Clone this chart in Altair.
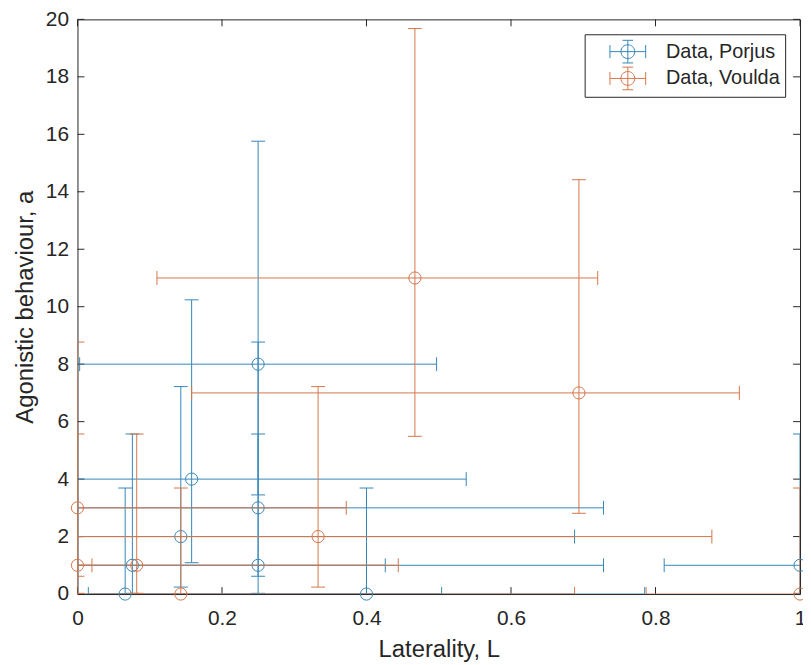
import altair as alt
import pandas as pd

# ---------------- data ----------------
series_names = ["Data, Porjus", "Data, Voulda"]
series_colors = ["#3587b6", "#d5764a"]

porjus_L = [0.066, 0.400, 0.076, 0.250, 1.000, 0.143, 0.250, 0.158, 0.250]
porjus_a = [0, 0, 1, 1, 1, 2, 3, 4, 8]
porjus_Llo = [-0.372, 0.015, -0.274, -0.228, 0.812, -0.402, -0.228, -0.222, 0.003]
porjus_Lhi = [0.504, 0.785, 0.426, 0.728, 1.188, 0.688, 0.728, 0.538, 0.497]
porjus_alo = [0, 0, 0.025, 0.025, 0.025, 0.242, 0.619, 1.09, 3.45]
porjus_ahi = [3.69, 3.69, 5.57, 5.57, 5.57, 7.22, 8.77, 10.24, 15.76]

voulda_L = [0.143, 1.000, 0.000, 0.082, 0.333, 0.000, 0.694, 0.467]
voulda_a = [0, 0, 1, 1, 2, 3, 7, 11]
voulda_Llo = [-0.402, 0.787, -0.020, -0.280, -0.212, -0.372, 0.158, 0.110]
voulda_Lhi = [0.688, 1.213, 0.020, 0.444, 0.878, 0.372, 0.916, 0.720]
voulda_alo = [0, 0, 0.025, 0.025, 0.242, 0.619, 2.81, 5.49]
voulda_ahi = [3.69, 3.69, 5.57, 5.57, 7.22, 8.77, 14.42, 19.68]

x_ticks = [0, 0.2, 0.4, 0.6, 0.8, 1]
y_ticks = [0, 2, 4, 6, 8, 10, 12, 14, 16, 18, 20]

x_title = "Laterality, L"
y_title = "Agonistic behaviour, a"

# ---------------- styling ----------------
W, H = 728, 579
AX = "#262626"
FONT = "Liberation Sans"
TICK_LEN = 7

xs = alt.Scale(domain=[0, 1], nice=False, zero=False)
ys = alt.Scale(domain=[0, 20], nice=False, zero=False)

xaxis = alt.Axis(title=x_title, values=x_ticks, format="~g", ticks=False, tickSize=0,
                 domain=False, grid=False, labelFlush=False, labelPadding=14,
                 labelFont=FONT, labelFontSize=21, labelColor=AX,
                 titleFont=FONT, titleFontSize=24, titleColor=AX, titleFontWeight="normal",
                 titleX=W / 2, titleY=63, titleBaseline="alphabetic")
yaxis = alt.Axis(title=y_title, values=y_ticks, format="~g", ticks=False, tickSize=0,
                 domain=False, grid=False, labelFlush=False, labelPadding=9,
                 labelFont=FONT, labelFontSize=21, labelColor=AX,
                 titleFont=FONT, titleFontSize=24, titleColor=AX, titleFontWeight="normal",
                 titleX=-45, titleY=H / 2, titleBaseline="alphabetic", titleAngle=270)

legend_path = ("M-1.5,0H1.5M-1.5,-0.55V0.55M1.5,-0.55V0.55"
               "M0,-0.95V0.95M-0.45,-0.95H0.45M-0.45,0.95H0.45"
               "M0.58,0A0.58,0.58,0,1,1,-0.58,0A0.58,0.58,0,1,1,0.58,0")

legend = alt.Legend(title=None, orient="none", legendX=511, legendY=15,
                    symbolType=legend_path, symbolSize=576, symbolStrokeWidth=1,
                    labelFont=FONT, labelFontSize=20, labelColor=AX, labelLimit=0,
                    strokeColor=AX, fillColor="white", padding=5, rowPadding=0,
                    symbolOffset=26, labelOffset=26)

color_scale = alt.Scale(domain=series_names, range=series_colors)


def make_df(name, L, a, Llo, Lhi, alo, ahi):
    return pd.DataFrame({"series": name, "L": L, "a": a, "Llo": Llo, "Lhi": Lhi,
                         "alo": alo, "ahi": ahi})


def series_layers(df):
    base = alt.Chart(df)
    color = alt.Color("series:N", scale=color_scale, legend=legend)
    xerr = base.mark_rule(clip=True, strokeWidth=1).encode(
        x=alt.X("Llo:Q", scale=xs, axis=xaxis), x2="Lhi:Q",
        y=alt.Y("a:Q", scale=ys, axis=yaxis), color=color)
    yerr = base.mark_rule(clip=True, strokeWidth=1).encode(
        x=alt.X("L:Q", scale=xs, axis=xaxis),
        y=alt.Y("alo:Q", scale=ys, axis=yaxis), y2="ahi:Q", color=color)
    xcaps = base.transform_fold(["Llo", "Lhi"], as_=["end", "Lend"]).mark_point(
        shape="M0,-1V1", size=196, filled=False, strokeWidth=1, clip=True, opacity=1).encode(
        x=alt.X("Lend:Q", scale=xs, axis=xaxis),
        y=alt.Y("a:Q", scale=ys, axis=yaxis), color=color)
    ycaps = base.transform_fold(["alo", "ahi"], as_=["end", "aend"]).mark_point(
        shape="M-1,0H1", size=196, filled=False, strokeWidth=1, clip=True, opacity=1).encode(
        x=alt.X("L:Q", scale=xs, axis=xaxis),
        y=alt.Y("aend:Q", scale=ys, axis=yaxis), color=color)
    pts = base.mark_point(shape="circle", size=150, filled=False, strokeWidth=1, opacity=1).encode(
        x=alt.X("L:Q", scale=xs, axis=xaxis),
        y=alt.Y("a:Q", scale=ys, axis=yaxis), color=color)
    return [xerr, yerr, xcaps, ycaps, pts]


df_p = make_df(series_names[0], porjus_L, porjus_a, porjus_Llo, porjus_Lhi, porjus_alo, porjus_ahi)
df_v = make_df(series_names[1], voulda_L, voulda_a, voulda_Llo, voulda_Lhi, voulda_alo, voulda_ahi)

# inward ticks on all four sides (MATLAB style)
xt = pd.DataFrame({"t": x_ticks})
yt = pd.DataFrame({"t": y_ticks})
tick_bottom = alt.Chart(xt).mark_rule(color=AX, strokeWidth=1).encode(
    x=alt.X("t:Q", scale=xs, axis=xaxis), y=alt.value(H), y2=alt.value(H - TICK_LEN))
tick_top = alt.Chart(xt).mark_rule(color=AX, strokeWidth=1).encode(
    x=alt.X("t:Q", scale=xs, axis=xaxis), y=alt.value(0), y2=alt.value(TICK_LEN))
tick_left = alt.Chart(yt).mark_rule(color=AX, strokeWidth=1).encode(
    y=alt.Y("t:Q", scale=ys, axis=yaxis), x=alt.value(0), x2=alt.value(TICK_LEN))
tick_right = alt.Chart(yt).mark_rule(color=AX, strokeWidth=1).encode(
    y=alt.Y("t:Q", scale=ys, axis=yaxis), x=alt.value(W - TICK_LEN), x2=alt.value(W))

layers = [tick_bottom, tick_top, tick_left, tick_right] + series_layers(df_p) + series_layers(df_v)

chart = alt.layer(*layers).properties(
    width=W, height=H,
    background="white",
    padding={"left": 70, "top": 9, "right": 3, "bottom": 66},
    autosize=alt.AutoSizeParams(type="none"),
).configure_view(
    stroke=AX, strokeWidth=1
).configure_axis(
    labelFont=FONT, labelFontSize=21, labelColor=AX,
    titleFont=FONT, titleFontSize=24, titleColor=AX, titleFontWeight="normal",
)

chart.save("out.html", embed_options={"renderer": "svg", "actions": False})
